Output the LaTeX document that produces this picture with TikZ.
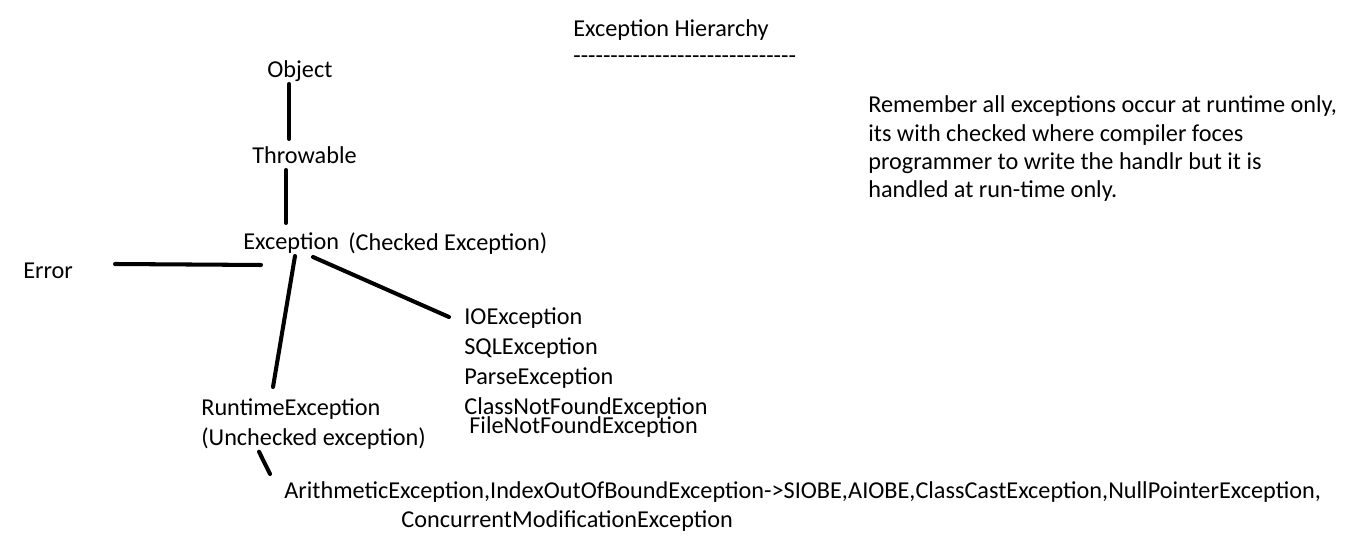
\documentclass[tikz,border=0pt]{standalone}
\usepackage{fontspec}
\setmainfont{Carlito}
\usetikzlibrary{positioning, calc}

\begin{document}
\begin{tikzpicture}[
    x=0.02cm, y=-0.02cm,
    lbl/.style={inner sep=0pt, anchor=base west, font=\fontsize{13.8pt}{16.2pt}\selectfont},
    stack/.style={lbl, text height=0.36cm, text depth=0.1cm},
    link/.style={line width=2.3pt, line cap=round, black},
]

% === CANVAS ===
\fill[white] (0,0) rectangle (1357,553);

% === TITLE ===
\node[lbl] (title) at (573,37) {Exception Hierarchy};
\node[lbl] (rule) at (573,64) {\foreach \i in {1,...,30}{-\kern0pt}};

% === NOTE ===
% (base of a multi-line node is its last line)
\node[lbl, align=left] (note) at (868,198) {Remember all exceptions occur at runtime only,\\its with checked where compiler foces\\programmer to write the handlr but it is\\handled at run-time only.};

% === HIERARCHY ===
\node[lbl] (obj) at (267,78) {Object};
\node[lbl] (thr) at (252,164) {Throwable};
\node[lbl] (exc) at (243,250) {Exception};
\node[lbl] (chk) at (348,251) {(Checked Exception)};
\node[lbl] (err) at (23,279) {Error};

% --- checked ones ---
\node[stack] (io) at (464,325) {IOException};
\node[stack, below=0.12cm of io.south west, anchor=north west] (sql) {SQLException};
\node[stack, below=0.12cm of sql.south west, anchor=north west] (parse) {ParseException};
\node[stack, below=0.12cm of parse.south west, anchor=north west] (cnf) {ClassNotFoundException};
\node[lbl] (fnf) at (469,434) {FileNotFoundException};

% --- unchecked ones ---
\node[stack] (rt) at (201,416) {RuntimeException};
\node[stack, below=0.12cm of rt.south west, anchor=north west] (unchk) {(Unchecked exception)};
\node[lbl] (arith) at (284,499) {ArithmeticException,IndexOutOfBoundException->SIOBE,AIOBE,ClassCastException,NullPointerException,};
\node[lbl] (conc) at (401,528) {ConcurrentModificationException};

% === LINKS ===
\draw[link] ($(obj.base west)+(22,6)$) -- ($(thr.base west)+(37,-25)$);
\draw[link] ($(thr.base west)+(34,6)$) -- ($(exc.base west)+(43,-27)$);
\draw[link] ($(err.base west)+(92,-15)$) -- ($(exc.base west)+(18,15)$);
\draw[link] ($(exc.base west)+(52,6)$) -- ($(rt.base west)+(72,-29)$);
\draw[link] ($(exc.base west)+(70,7)$) -- ($(io.base west)+(-15,-8)$);
\draw[link] ($(unchk.base west)+(58,6)$) -- ($(arith.base west)+(-14,-25)$);

\end{tikzpicture}
\end{document}
